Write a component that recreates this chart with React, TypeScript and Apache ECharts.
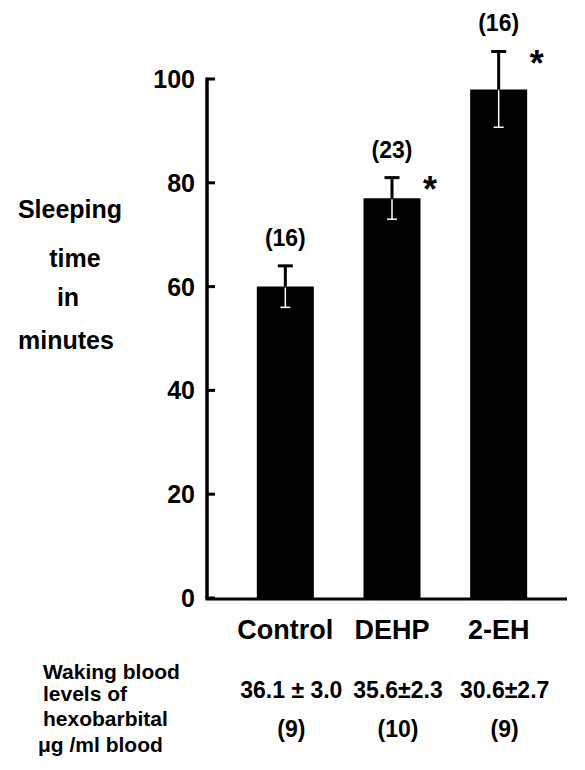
import React, { useEffect, useRef } from "react";
import * as echarts from "echarts";

const categories = ["Control", "DEHP", "2-EH"];
const sleepMeans = [60, 77, 98];
const sleepErrors = [4, 4, 7.3];
const groupSizes = ["(16)", "(23)", "(16)"];
const significant = [false, true, true];
const yTicks = [0, 20, 40, 60, 80, 100];
const bloodLevels = ["36.1 ± 3.0", "35.6±2.3", "30.6±2.7"];
const bloodN = ["(9)", "(10)", "(9)"];
const yNameLines = ["Sleeping", "time", "in", "minutes"];
const bottomLines = ["Waking blood", "levels of", "hexobarbital", "μg /ml blood"];

const FONT = "'Liberation Sans', Arial, sans-serif";

export default function App() {
  const ref = useRef<HTMLDivElement>(null);
  useEffect(() => {
    if (!ref.current) return;
    const chart = echarts.init(ref.current, null, { renderer: "svg" });
    const yNamePos = [
      [70, 209],
      [75, 258],
      [68, 297],
      [66, 340],
    ];
    const bottomY = [671, 693, 718, 744];
    const Y_OFFSET = 25;
    const option: any = {
      animation: false,
      backgroundColor: "#ffffff",
      grid: { left: 232, right: 33, top: 79, bottom: 172 },
      xAxis: {
        type: "category",
        data: categories,
        axisLine: { show: false },
        axisTick: { show: false },
        axisLabel: {
          interval: 0,
          color: "#000",
          fontFamily: FONT,
          fontWeight: "bold",
          fontSize: 27,
          margin: 18,
        },
      },
      yAxis: {
        type: "value",
        min: yTicks[0],
        max: yTicks[yTicks.length - 1],
        interval: 20,
        offset: Y_OFFSET,
        axisLine: { show: false },
        axisTick: { show: false },
        axisLabel: {
          color: "#000",
          fontFamily: FONT,
          fontWeight: "bold",
          fontSize: 25,
          margin: 12,
        },
        splitLine: { show: false },
      },
      series: [
        {
          type: "bar",
          data: sleepMeans,
          barWidth: 57,
          itemStyle: { color: "#000" },
        },
        {
          type: "custom",
          clip: false,
          z: 3,
          data: sleepMeans.map((m, i) => [i, m, sleepErrors[i]]),
          renderItem: (params: any, api: any) => {
            const i = api.value(0);
            const m = api.value(1);
            const e = api.value(2);
            const top = api.coord([i, m + e]);
            const mid = api.coord([i, m]);
            const bot = api.coord([i, m - e]);
            const x = mid[0];
            const idx = params.dataIndex;
            const base = api.coord([i, 0]);
            const band = api.size([1, 0])[0];
            const children: any[] = [
              {
                type: "line",
                shape: { x1: x, y1: mid[1], x2: x, y2: top[1] },
                style: { stroke: "#000", lineWidth: 3 },
              },
              {
                type: "line",
                shape: { x1: x - 7.5, y1: top[1], x2: x + 7.5, y2: top[1] },
                style: { stroke: "#000", lineWidth: 3 },
              },
              {
                type: "line",
                shape: { x1: x, y1: mid[1] + 1, x2: x, y2: bot[1] },
                style: { stroke: "#fff", lineWidth: 1.5 },
              },
              {
                type: "line",
                shape: { x1: x - 5, y1: bot[1], x2: x + 5, y2: bot[1] },
                style: { stroke: "#fff", lineWidth: 1.5 },
              },
              {
                type: "text",
                x: x,
                y: top[1] - 28,
                style: {
                  text: groupSizes[idx],
                  fill: "#000",
                  font: `bold 23px ${FONT}`,
                  align: "center",
                  verticalAlign: "middle",
                },
              },
              {
                type: "text",
                x: x + 6,
                y: base[1] + 92,
                style: {
                  text: bloodLevels[idx],
                  fill: "#000",
                  font: `bold 23px ${FONT}`,
                  align: "center",
                  verticalAlign: "middle",
                },
              },
              {
                type: "text",
                x: x + 6,
                y: base[1] + 131,
                style: {
                  text: bloodN[idx],
                  fill: "#000",
                  font: `bold 23px ${FONT}`,
                  align: "center",
                  verticalAlign: "middle",
                },
              },
            ];
            if (idx === 0) {
              const axisX = x - band / 2 - Y_OFFSET;
              const last = api.coord([categories.length - 1, 0]);
              const topTick = api.coord([i, yTicks[yTicks.length - 1]]);
              children.push({
                type: "line",
                shape: {
                  x1: axisX - 1.5,
                  y1: base[1] + 1,
                  x2: last[0] + band / 2 + 15,
                  y2: base[1] + 1,
                },
                style: { stroke: "#000", lineWidth: 3 },
              });
              children.push({
                type: "line",
                shape: { x1: axisX, y1: base[1] + 1, x2: axisX, y2: topTick[1] - 1.5 },
                style: { stroke: "#000", lineWidth: 3.5 },
              });
              yTicks.forEach((t) => {
                const ty = api.coord([i, t])[1];
                children.push({
                  type: "line",
                  shape: { x1: axisX, y1: ty, x2: axisX + 8, y2: ty },
                  style: { stroke: "#000", lineWidth: 3 },
                });
              });
            }
            if (significant[idx]) {
              children.push({
                type: "text",
                x: x + 38,
                y: top[1] + 12,
                style: {
                  text: "*",
                  fill: "#000",
                  font: `bold 36px ${FONT}`,
                  align: "center",
                  verticalAlign: "middle",
                },
              });
            }
            return { type: "group", children };
          },
        },
      ],
      graphic: [
        ...yNameLines.map((t, i) => ({
          type: "text",
          x: yNamePos[i][0],
          y: yNamePos[i][1],
          style: {
            text: t,
            fill: "#000",
            font: `bold 25px ${FONT}`,
            align: "center",
            verticalAlign: "middle",
          },
        })),
        ...bottomLines.map((t, i) => ({
          type: "text",
          x: i === 3 ? 38 : 43,
          y: bottomY[i],
          style: {
            text: t,
            fill: "#000",
            font: `bold 21px ${FONT}`,
            align: "left",
            verticalAlign: "middle",
          },
        })),
      ],
    };
    chart.setOption(option);
    return () => chart.dispose();
  }, []);
  return (
    <div
      ref={ref}
      style={{ position: "absolute", left: 0, top: 0, width: 585, height: 770 }}
    />
  );
}
